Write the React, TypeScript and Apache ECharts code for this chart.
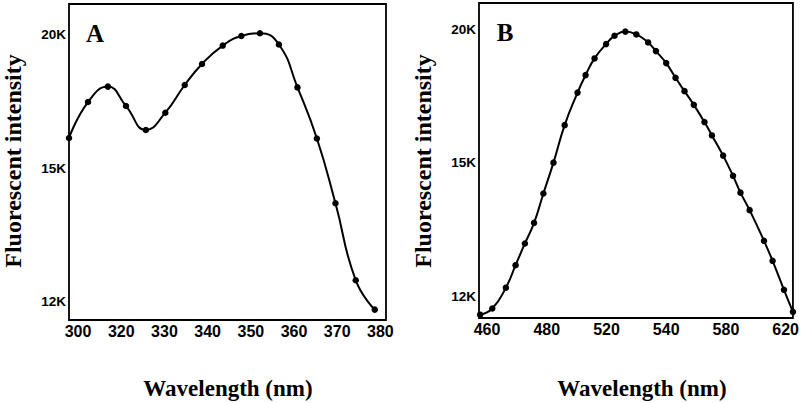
import React, { useEffect, useRef } from "react";
import * as echarts from "echarts";

// Panel A
const xTicksA = [310, 320, 330, 340, 350, 360, 370, 380];
const xTickLabelsA = ["300", "320", "330", "340", "350", "360", "370", "380"];
const wavelengthA = [307.9, 312.3, 316.9, 321.1, 325.7, 330.2, 334.7, 338.7, 343.5, 347.8, 352.1, 356.5, 360.8, 365.3, 369.6, 374.3, 378.7];
const intensityA = [16130, 17480, 18060, 17330, 16430, 17080, 18120, 18910, 19600, 19960, 20060, 19640, 18030, 16110, 13680, 10790, 9690];

// Panel B
const xTicksB = [460, 492, 524, 556, 588, 620];
const xTickLabelsB = ["460", "480", "520", "540", "580", "620"];
const wavelengthB = [456.3, 462.8, 470.1, 475.3, 480.3, 485.2, 490.2, 495.6, 501.6, 508.5, 512.8, 517.6, 523.8, 528.3, 534.1, 540.0, 546.3, 550.5, 556.0, 561.0, 565.8, 570.8, 576.5, 580.5, 586.5, 591.8, 595.8, 600.7, 608.4, 613.0, 619.1, 623.9];
const intensityB = [9305, 9537, 10317, 11161, 11975, 12747, 13850, 15005, 16411, 17630, 18286, 18912, 19449, 19760, 19917, 19812, 19512, 19186, 18736, 18185, 17686, 17171, 16526, 16025, 15268, 14510, 13880, 13224, 12073, 11323, 10235, 9410];

// Shared y ticks
const yTicks = [20000, 15000, 10000];
const yTickLabels = ["20K", "15K", "12K"];

const SANS = "'Liberation Sans', Arial, sans-serif";
const SERIF = "'Liberation Serif', 'Times New Roman', serif";

function xAxisFor(gridIndex: number, min: number, max: number, ticks: number[], labels: string[]) {
  return {
    type: "value",
    gridIndex,
    min,
    max,
    splitLine: { show: false },
    axisTick: { show: false },
    axisLine: { show: false },
    axisLabel: {
      customValues: ticks,
      formatter: (v: number) => {
        const i = ticks.findIndex((t) => Math.abs(t - v) < 1e-6);
        return i >= 0 ? labels[i] : "";
      },
      color: "#000",
      fontFamily: SANS,
      fontWeight: "bold",
      fontSize: 16,
      margin: 3,
    },
  };
}

function yAxisFor(gridIndex: number, min: number, max: number) {
  return {
    type: "value",
    gridIndex,
    min,
    max,
    splitLine: { show: false },
    axisTick: { show: false },
    axisLine: { show: false },
    axisLabel: {
      customValues: yTicks,
      formatter: (v: number) => {
        const i = yTicks.findIndex((t) => Math.abs(t - v) < 1e-6);
        return i >= 0 ? yTickLabels[i] : "";
      },
      color: "#000",
      fontFamily: SANS,
      fontWeight: "bold",
      fontSize: 13.5,
      margin: 3,
    },
  };
}

function seriesFor(idx: number, xs: number[], ys: number[]) {
  return {
    type: "line",
    xAxisIndex: idx,
    yAxisIndex: idx,
    data: xs.map((x, i) => [x, ys[i]]),
    smooth: 0.5,
    symbol: "circle",
    symbolSize: 6.5,
    clip: false,
    lineStyle: { color: "#000", width: 2 },
    itemStyle: { color: "#000" },
  };
}

export default function App() {
  const ref = useRef<HTMLDivElement>(null);
  useEffect(() => {
    if (!ref.current) return;
    const chart = echarts.init(ref.current, null, { renderer: "svg" });
    chart.setOption({
      animation: false,
      backgroundColor: "#fff",
      grid: [
        { left: 69, top: 4, width: 317, height: 316, show: true, borderColor: "#000", borderWidth: 1.8, backgroundColor: "transparent" },
        { left: 479, top: 3, width: 315, height: 315, show: true, borderColor: "#000", borderWidth: 1.8, backgroundColor: "transparent" },
      ],
      xAxis: [
        xAxisFor(0, 307.9, 381.3, xTicksA, xTickLabelsA),
        xAxisFor(1, 455.7, 623.9, xTicksB, xTickLabelsB),
      ],
      yAxis: [yAxisFor(0, 9300, 21160), yAxisFor(1, 9180, 20990)],
      series: [seriesFor(0, wavelengthA, intensityA), seriesFor(1, wavelengthB, intensityB)],
      graphic: [
        { type: "text", x: 95, y: 33, style: { text: "A", font: `bold 25px ${SERIF}`, fill: "#000", textAlign: "center", textVerticalAlign: "middle" } },
        { type: "text", x: 505, y: 32, style: { text: "B", font: `bold 25px ${SERIF}`, fill: "#000", textAlign: "center", textVerticalAlign: "middle" } },
        { type: "text", x: 13, y: 161, rotation: Math.PI / 2, style: { text: "Fluorescent intensity", font: `bold 24px ${SERIF}`, fill: "#000", textAlign: "center", textVerticalAlign: "middle" } },
        { type: "text", x: 423, y: 161, rotation: Math.PI / 2, style: { text: "Fluorescent intensity", font: `bold 24px ${SERIF}`, fill: "#000", textAlign: "center", textVerticalAlign: "middle" } },
        { type: "text", x: 228, y: 388, style: { text: "Wavelength (nm)", font: `bold 23px ${SERIF}`, fill: "#000", textAlign: "center", textVerticalAlign: "middle" } },
        { type: "text", x: 642, y: 388, style: { text: "Wavelength (nm)", font: `bold 23px ${SERIF}`, fill: "#000", textAlign: "center", textVerticalAlign: "middle" } },
      ],
    });
    return () => chart.dispose();
  }, []);
  return (
    <div
      ref={ref}
      style={{ position: "fixed", left: 0, top: 0, width: 802, height: 403, background: "#fff" }}
    />
  );
}
